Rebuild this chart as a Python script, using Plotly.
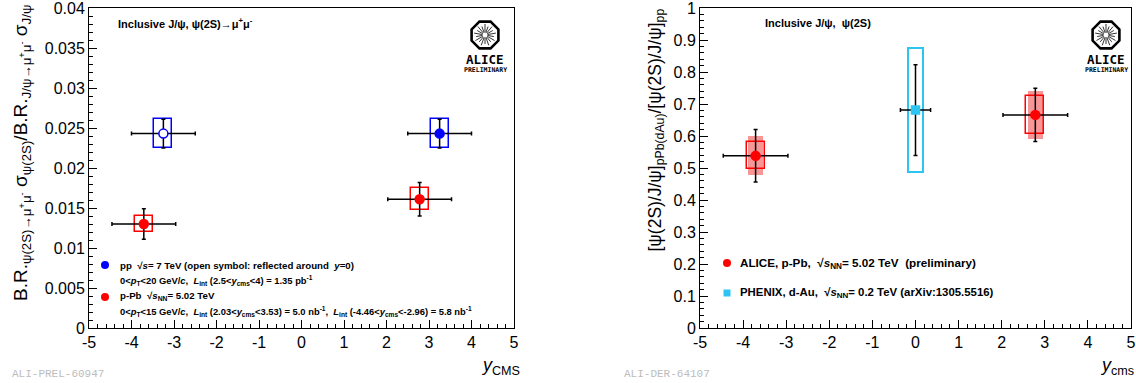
import math
import plotly.graph_objects as go

W, H = 1136, 383

# ---------------- data: left panel ----------------
pp_x = [-3.25, 3.25]
pp_y = [0.0243, 0.0243]
pp_xerr = [0.75, 0.75]
pp_stat = [0.0018, 0.0018]
pp_syst = [0.0018, 0.0018]

ppb_x = [-3.71, 2.78]
ppb_y = [0.0130, 0.0161]
ppb_xerr = [0.75, 0.75]
ppb_stat = [0.0019, 0.0021]
ppb_syst = [0.0010, 0.0014]

# ---------------- data: right panel ----------------
alice_x = [-3.71, 2.78]
alice_y = [0.538, 0.666]
alice_xerr = [0.75, 0.75]
alice_stat = [0.082, 0.083]
alice_syst_unc = [0.042, 0.059]
alice_syst_cor = [0.061, 0.075]

phenix_x = [0.0]
phenix_y = [0.681]
phenix_xerr = [0.35]
phenix_stat = [0.142]
phenix_syst = [0.193]

x_ticks = [-5, -4, -3, -2, -1, 0, 1, 2, 3, 4, 5]
x_ticktext = ["-5", "-4", "-3", "-2", "-1", "0", "1", "2", "3", "4", "5"]

FONT = "Liberation Sans, Arial, sans-serif"


def px(x):
    return x / W


def py(y):
    return 1 - y / H


def box_trace(x, y, s, width, color, fill, xa, ya, lw=1.5):
    return go.Bar(
        x=x, y=[2 * v for v in s], base=[a - b for a, b in zip(y, s)],
        width=[width] * len(x), xaxis=xa, yaxis=ya, showlegend=False,
        marker=dict(color=fill, line=dict(color=color, width=lw)),
        hoverinfo="skip",
    )


def point_trace(x, y, xe, ye, symbol, mcolor, lcolor, size, xa, ya):
    return go.Scatter(
        x=x, y=y, mode="markers", xaxis=xa, yaxis=ya, showlegend=False,
        marker=dict(symbol=symbol, color=mcolor, size=size,
                    line=dict(color=lcolor, width=1.5)),
        error_x=dict(type="data", array=xe, color="black", thickness=1.5, width=2),
        error_y=dict(type="data", array=ye, color="black", thickness=1.5, width=2),
    )


fig = go.Figure()

# left panel
fig.add_trace(box_trace(pp_x, pp_y, pp_syst, 0.42, "blue", "rgba(0,0,0,0)", "x", "y"))
fig.add_trace(box_trace(ppb_x, ppb_y, ppb_syst, 0.42, "red", "rgba(0,0,0,0)", "x", "y"))
fig.add_trace(point_trace(pp_x[:1], pp_y[:1], pp_xerr[:1], pp_stat[:1], "circle", "white", "blue", 9, "x", "y"))
fig.add_trace(point_trace(pp_x[1:], pp_y[1:], pp_xerr[1:], pp_stat[1:], "circle", "blue", "blue", 9, "x", "y"))
fig.add_trace(point_trace(ppb_x, ppb_y, ppb_xerr, ppb_stat, "circle", "red", "red", 9, "x", "y"))

# right panel
fig.add_trace(box_trace(alice_x, alice_y, alice_syst_cor, 0.34, "rgba(0,0,0,0)", "#f79696", "x2", "y2", lw=0))
fig.add_trace(box_trace(alice_x, alice_y, alice_syst_unc, 0.42, "red", "rgba(0,0,0,0)", "x2", "y2"))
fig.add_trace(box_trace(phenix_x, phenix_y, phenix_syst, 0.36, "#2ec4f2", "rgba(0,0,0,0)", "x2", "y2", lw=2))
fig.add_trace(point_trace(alice_x, alice_y, alice_xerr, alice_stat, "circle", "red", "red", 9, "x2", "y2"))
fig.add_trace(point_trace(phenix_x, phenix_y, phenix_xerr, phenix_stat, "square", "#2ec4f2", "#2ec4f2", 8, "x2", "y2"))

ydom = [py(328), py(8)]
axis_common = dict(
    showgrid=False, zeroline=False, showline=True, linecolor="black", linewidth=1,
    mirror=True, ticks="inside", ticklen=8, tickcolor="black", tickwidth=1,
    tickfont=dict(family=FONT, size=16, color="black"),
    automargin=False, ticklabeloverflow="allow",
)
xaxis_common = dict(axis_common, range=[-5, 5], tickmode="array", tickvals=x_ticks,
                    ticktext=x_ticktext,
                    minor=dict(dtick=0.2, ticks="inside", ticklen=4, tickcolor="black", showgrid=False))

fig.update_layout(
    width=W, height=H, margin=dict(l=0, r=0, t=0, b=0, autoexpand=False),
    paper_bgcolor="white", plot_bgcolor="white", barmode="overlay", bargap=0,
    showlegend=False,
    xaxis=dict(xaxis_common, domain=[px(89), px(514)], anchor="y"),
    yaxis=dict(axis_common, domain=ydom, range=[0, 0.04], dtick=0.005, anchor="x",
               minor=dict(dtick=0.001, ticks="inside", ticklen=4, tickcolor="black", showgrid=False)),
    xaxis2=dict(xaxis_common, domain=[px(700), px(1131)], anchor="y2"),
    yaxis2=dict(axis_common, domain=ydom, range=[0, 1], dtick=0.1, anchor="x2",
                minor=dict(dtick=0.02, ticks="inside", ticklen=4, tickcolor="black", showgrid=False)),
)

ann = []


def text(x, y, t, size=10, bold=True, xanchor="left", yanchor="middle", color="black",
         family=FONT, angle=0):
    ann.append(dict(xref="paper", yref="paper", x=px(x), y=py(y), text=(f"<b>{t}</b>" if bold else t),
                    showarrow=False, xanchor=xanchor, yanchor=yanchor, textangle=angle,
                    font=dict(family=family, size=size, color=color)))


# titles
text(116, 23, "Inclusive J/ψ, ψ(2S)→μ<sup>+</sup>μ<sup>-</sup>", size=11)
text(763, 23, "Inclusive J/ψ,  ψ(2S)", size=11)

# left legend
text(118, 265, "pp  √<i>s</i>= 7 TeV (open symbol: reflected around  <i>y</i>=0)", size=9.7)
text(118, 280, "0&lt;<i>p</i><sub>T</sub>&lt;20 GeV/<i>c</i>,  <i>L</i><sub>int</sub> (2.5&lt;<i>y</i><sub>cms</sub>&lt;4) = 1.35 pb<sup>-1</sup>", size=9.4)
text(118, 296, "p-Pb  √<i>s</i><sub>NN</sub>= 5.02 TeV", size=9.7)
text(118, 311, "0&lt;<i>p</i><sub>T</sub>&lt;15 GeV/<i>c</i>,  <i>L</i><sub>int</sub> (2.03&lt;<i>y</i><sub>cms</sub>&lt;3.53) = 5.0 nb<sup>-1</sup>,  <i>L</i><sub>int</sub> (-4.46&lt;<i>y</i><sub>cms</sub>&lt;-2.96) = 5.8 nb<sup>-1</sup>", size=9.4)

# right legend
text(738, 263, "ALICE, p-Pb,  √<i>s</i><sub>NN</sub>= 5.02 TeV  (preliminary)", size=11.7)
text(738, 293, "PHENIX, d-Au,  √<i>s</i><sub>NN</sub>= 0.2 TeV (arXiv:1305.5516)", size=11.4)

# axis titles
text(22, 3, "B.R.<sub>ψ(2S)→μ<sup>+</sup>μ<sup>-</sup></sub> σ<sub>ψ(2S)</sub>/B.R.<sub>J/ψ→μ<sup>+</sup>μ<sup>-</sup></sub> σ<sub>J/ψ</sub>",
     size=19, bold=False, xanchor="center", yanchor="top", angle=-90)
text(656, 7, "[ψ(2S)/J/ψ]<sub>pPb(dAu)</sub>/[ψ(2S)/J/ψ]<sub>pp</sub>",
     size=17.5, bold=False, xanchor="center", yanchor="top", angle=-90)
text(522, 366, "<i>y</i><sub>CMS</sub>", size=18, bold=False, xanchor="right")
text(1136, 366, "<i>y</i><sub>cms</sub>", size=18, bold=False, xanchor="right")

# watermark ids
text(10, 374, "ALI-PREL-60947", size=11, bold=False, color="#bcbcbc", family="Liberation Mono, monospace")
text(622, 374, "ALI-DER-64107", size=11, bold=False, color="#bcbcbc", family="Liberation Mono, monospace")

shapes = []


def logo(cx, cy, r=14.5):
    pts = []
    for k in range(8):
        a = math.radians(22.5 + 45 * k)
        pts.append((r * math.cos(a), r * math.sin(a)))
    path = "M " + " L ".join(f"{x:.2f},{y:.2f}" for x, y in pts) + " Z"
    shapes.append(dict(type="path", path=path, xref="paper", yref="paper",
                       xsizemode="pixel", ysizemode="pixel", xanchor=px(cx), yanchor=py(cy),
                       line=dict(color="black", width=2.6)))
    rays = ""
    for k in range(18):
        a = math.radians(10 + 20 * k)
        r0, r1 = 2.5, (r - 3.5) if k % 2 == 0 else (r - 5.5)
        rays += f"M {r0*math.cos(a):.2f},{r0*math.sin(a):.2f} L {r1*math.cos(a):.2f},{r1*math.sin(a):.2f} "
    shapes.append(dict(type="path", path=rays, xref="paper", yref="paper",
                       xsizemode="pixel", ysizemode="pixel", xanchor=px(cx), yanchor=py(cy),
                       line=dict(color="black", width=0.8)))
    text(cx, cy + 24, "ALICE", size=12.5, bold=True, xanchor="center", family="DejaVu Sans Mono, monospace")
    text(cx, cy + 35, "PRELIMINARY", size=6.5, bold=True, xanchor="center", family="DejaVu Sans Mono, monospace")


logo(485, 35)
logo(1106, 35)


def dot(x, y, color, kind="circle", r=4):
    shapes.append(dict(type=kind if kind == "circle" else "rect", xref="paper", yref="paper",
                       xsizemode="pixel", ysizemode="pixel", xanchor=px(x), yanchor=py(y),
                       x0=-r, x1=r, y0=-r, y1=r, fillcolor=color, line=dict(width=0)))


dot(105, 265, "blue")
dot(105, 297, "red")
dot(727, 263, "red")
dot(727, 293, "#2ec4f2", kind="rect", r=3.5)

fig.update_layout(annotations=ann, shapes=shapes)
fig.write_html("out.html", config={"displayModeBar": False},
               post_script="document.body.style.margin='0';document.body.style.overflow='hidden';")
